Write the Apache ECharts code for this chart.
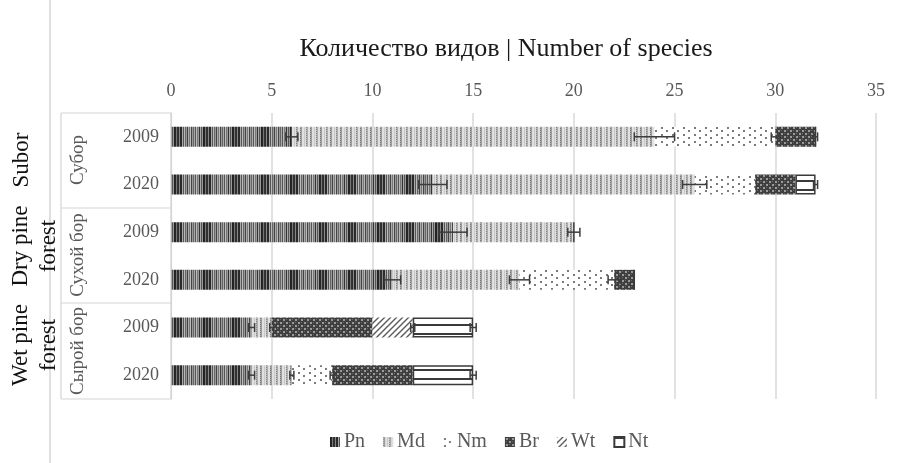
<!DOCTYPE html>
<html>
<head>
<meta charset="utf-8">
<script src="https://cdn.jsdelivr.net/npm/echarts@6/dist/echarts.min.js"></script>
<style>
  html, body { margin: 0; padding: 0; background: #fff; }
  #chart { width: 907px; height: 463px; }
</style>
</head>
<body>
<div id="chart"></div>
<script>
// Rows: habitat + survey year
const rows = ['Субор 2009', 'Субор 2020', 'Сухой бор 2009', 'Сухой бор 2020', 'Сырой бор 2009', 'Сырой бор 2020'];
const habitatsRu = ['Субор', 'Сухой бор', 'Сырой бор'];
const habitatsEn = ['Subor', 'Dry pine\nforest', 'Wet pine\nforest'];
const xTicks = [0, 5, 10, 15, 20, 25, 30, 35];

// Species counts by ecological group
const groups = ['Pn', 'Md', 'Nm', 'Br', 'Wt', 'Nt'];
const Pn = [6, 13, 14, 11, 4, 4];
const Md = [18, 13, 6, 6.3, 1, 2];
const Nm = [6, 3, 0, 4.7, 0, 2];
const Br = [2, 2, 0, 1, 5, 4];
const Wt = [0, 0, 0, 0, 2, 0];
const Nt = [0, 1, 0, 0, 3, 3];

// Error half-widths for each group
const PnErr = [0.3, 0.7, 0.7, 0.4, 0.15, 0.15];
const MdErr = [1.0, 0.6, 0.3, 0.5, 0.1, 0.1];
const NmErr = [0.2, 0, 0, 0.3, 0, 0.1];
const BrErr = [0.1, 0, 0, 0, 0, 0];
const WtErr = [0, 0, 0, 0, 0.1, 0];
const NtErr = [0, 0.1, 0, 0, 0.15, 0.15];

const values = [Pn, Md, Nm, Br, Wt, Nt];
const errs = [PnErr, MdErr, NmErr, BrErr, WtErr, NtErr];

// ---- fill patterns ----
function tile(w, h, draw) {
  const c = document.createElement('canvas');
  c.width = w; c.height = h;
  const g = c.getContext('2d');
  draw(g, w, h);
  return { image: c, repeat: 'repeat' };
}
const pnCols = ['#222','#262626','#777','#333','#2e2e2e','#888','#2a2a2a','#2a2a2a','#aaa','#555',
  '#bbb','#666','#999','#444','#aaa','#777','#bbb','#444','#999','#666','#aaa','#555','#bbb','#777',
  '#999','#333','#aaa','#555','#999'];
const patterns = {
  Pn: tile(pnCols.length, 4, (g, w, h) => {
    pnCols.forEach((c, i) => { g.fillStyle = c; g.fillRect(i, 0, 1, h); });
  }),
  Md: tile(10, 4, (g, w, h) => {
    g.fillStyle = '#e0e0e0'; g.fillRect(0, 0, w, h);
    for (let y = 0; y < h; y++) {
      g.fillStyle = y % 2 ? '#b0b0b0' : '#7a7a7a'; g.fillRect(0, y, 1, 1);
      g.fillStyle = '#9c9c9c'; g.fillRect(1, y, 1, 1);
      g.fillStyle = '#c8c8c8'; g.fillRect(4, y, 1, 1);
      g.fillStyle = y % 2 ? '#858585' : '#bcbcbc'; g.fillRect(6, y, 1, 1);
      g.fillStyle = '#adadad'; g.fillRect(7, y, 1, 1);
    }
  }),
  Nm: tile(11, 7, (g) => {
    g.fillStyle = '#ffffff'; g.fillRect(0, 0, 11, 7);
    g.fillStyle = '#7a7a7a';
    g.fillRect(1, 1, 2, 2);
    g.fillRect(6, 4, 2, 2);
  }),
  Br: tile(6, 6, (g) => {
    g.fillStyle = '#3e3e3e'; g.fillRect(0, 0, 6, 6);
    g.fillStyle = '#9a9a9a';
    g.fillRect(1, 1, 2, 2);
    g.fillRect(4, 4, 2, 2);
    g.fillStyle = '#6a6a6a';
    g.fillRect(4, 1, 1, 1);
    g.fillRect(1, 4, 1, 1);
  }),
  Wt: tile(6, 6, (g) => {
    g.fillStyle = '#ffffff'; g.fillRect(0, 0, 6, 6);
    g.strokeStyle = '#5a5a5a'; g.lineWidth = 1.4;
    g.beginPath();
    g.moveTo(-1, 7); g.lineTo(7, -1);
    g.moveTo(-4, 4); g.lineTo(4, -4);
    g.moveTo(2, 10); g.lineTo(10, 2);
    g.stroke();
  }),
  Nt: tile(4, 9, (g) => {
    g.fillStyle = '#ffffff'; g.fillRect(0, 0, 4, 9);
    g.fillStyle = '#3a3a3a'; g.fillRect(0, 0, 4, 2);
  })
};

const barSeries = groups.map((name, gi) => ({
  name: name,
  type: 'bar',
  stack: 'total',
  barWidth: 20,
  data: values[gi],
  itemStyle: Object.assign({ color: patterns[name] },
    name === 'Nt' ? { borderColor: '#3a3a3a', borderWidth: 1.5 } : {}),
  emphasis: { disabled: true }
}));

// error bar positions: cumulative end of each segment
const errData = [];
rows.forEach((r, ri) => {
  let acc = 0;
  groups.forEach((g, gi) => {
    acc += values[gi][ri];
    if (values[gi][ri] > 0 && errs[gi][ri] > 0) errData.push([acc, ri, errs[gi][ri]]);
  });
});

const errSeries = {
  type: 'custom',
  name: 'err',
  z: 10,
  data: errData,
  encode: { x: 0, y: 1 },
  renderItem: function (params, api) {
    const x = api.value(0), y = api.value(1), e = api.value(2);
    const a = api.coord([x - e, y]);
    const b = api.coord([x + e, y]);
    const half = 4.5;
    const st = { stroke: '#3c3c3c', lineWidth: 1.5, fill: null };
    return {
      type: 'group',
      children: [
        { type: 'line', shape: { x1: a[0], y1: a[1], x2: b[0], y2: b[1] }, style: st },
        { type: 'line', shape: { x1: a[0], y1: a[1] - half, x2: a[0], y2: a[1] + half }, style: st },
        { type: 'line', shape: { x1: b[0], y1: b[1] - half, x2: b[0], y2: b[1] + half }, style: st }
      ]
    };
  }
};

const serif = '"Liberation Serif", "Times New Roman", serif';
const gray = '#595959';
const lineCol = '#d4d4d4';

const chart = echarts.init(document.getElementById('chart'), null, { renderer: 'canvas' });

const graphics = [
  { type: 'line', shape: { x1: 50, y1: 0, x2: 50, y2: 463 }, style: { stroke: lineCol, lineWidth: 1.5 } },
  { type: 'line', shape: { x1: 61, y1: 113, x2: 171, y2: 113 }, style: { stroke: lineCol, lineWidth: 1.2 } },
  { type: 'line', shape: { x1: 61, y1: 208, x2: 171, y2: 208 }, style: { stroke: lineCol, lineWidth: 1.2 } },
  { type: 'line', shape: { x1: 61, y1: 303, x2: 171, y2: 303 }, style: { stroke: lineCol, lineWidth: 1.2 } },
  { type: 'line', shape: { x1: 61, y1: 399, x2: 171, y2: 399 }, style: { stroke: lineCol, lineWidth: 1.2 } },
  { type: 'line', shape: { x1: 61, y1: 113, x2: 61, y2: 399 }, style: { stroke: lineCol, lineWidth: 1.2 } }
];
const groupCenters = [160, 255, 351];
habitatsRu.forEach((t, i) => {
  graphics.push({
    type: 'text', x: 78, y: groupCenters[i], rotation: Math.PI / 2,
    style: { text: t, font: '19px ' + serif, fill: gray, align: 'center', verticalAlign: 'middle' }
  });
});
const enCenters = [160, 246, 345];
habitatsEn.forEach((t, i) => {
  graphics.push({
    type: 'text', x: i === 0 ? 22 : 35, y: enCenters[i], rotation: Math.PI / 2,
    style: { text: t, font: '23px ' + serif, fill: '#111', align: 'center', verticalAlign: 'middle', lineHeight: 28 }
  });
});

chart.setOption({
  animation: false,
  textStyle: { fontFamily: serif },
  title: {
    text: 'Количество видов | Number of species',
    left: 501, top: 31, textAlign: 'center',
    textStyle: { fontSize: 26, fontWeight: 'normal', color: '#1a1a1a', fontFamily: serif }
  },
  grid: { left: 171, right: 31, top: 113, bottom: 64 },
  xAxis: {
    type: 'value', position: 'top', min: xTicks[0], max: xTicks[xTicks.length - 1], interval: 5,
    axisLine: { show: false }, axisTick: { show: false },
    axisLabel: { color: gray, fontSize: 18, margin: 13, fontFamily: serif },
    splitLine: { lineStyle: { color: '#d9d9d9', width: 1.5 } }
  },
  yAxis: {
    type: 'category', inverse: true, data: rows,
    axisLine: { lineStyle: { color: lineCol, width: 1.2 } },
    axisTick: { show: false },
    axisLabel: { formatter: v => v.split(' ').pop(), align: 'center', margin: 30, color: gray, fontSize: 18, fontFamily: serif }
  },
  legend: {
    data: groups, top: 427, left: 325, icon: 'rect',
    itemWidth: 10, itemHeight: 10, itemGap: 18,
    textStyle: { color: gray, fontSize: 20, fontFamily: serif, padding: [0, 0, 0, -1] },
    selectedMode: false
  },
  graphic: graphics,
  series: barSeries.concat([errSeries])
});
</script>
</body>
</html>
